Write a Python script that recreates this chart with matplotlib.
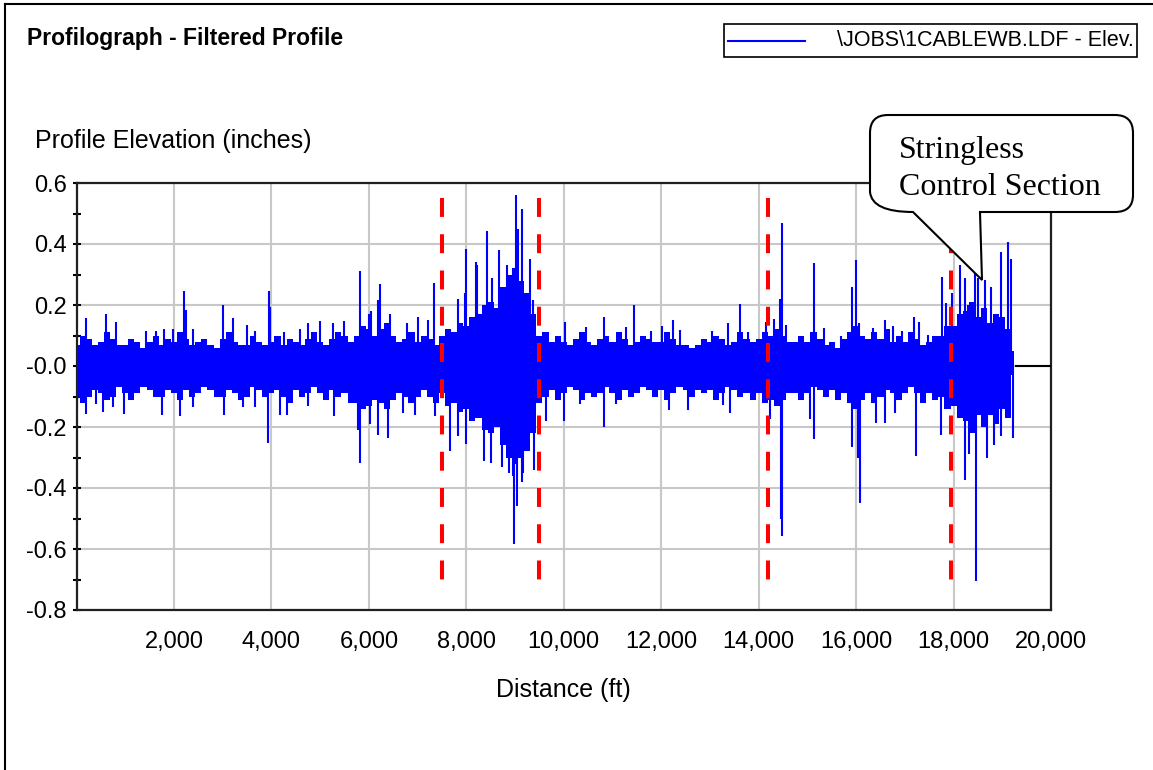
import numpy as np
import matplotlib
matplotlib.use("Agg")
import matplotlib.pyplot as plt
from matplotlib.path import Path
from matplotlib.patches import PathPatch, Rectangle
from matplotlib.lines import Line2D

plt.rcParams["font.family"] = ["Liberation Sans", "DejaVu Sans"]

# ---------- data ----------
# dense noise band, upper / lower edge every 125 ft (one row = 1000 ft)
band_ft = np.arange(0, 19251, 125)
band_hi = [0.07, 0.10, 0.09, 0.07, 0.08, 0.11, 0.09, 0.07,
           0.07, 0.09, 0.08, 0.06, 0.08, 0.10, 0.07, 0.09,
           0.08, 0.11, 0.09, 0.07, 0.08, 0.09, 0.07, 0.06,
           0.09, 0.11, 0.08, 0.07, 0.07, 0.10, 0.08, 0.07,
           0.08, 0.10, 0.07, 0.09, 0.08, 0.07, 0.09, 0.11,
           0.08, 0.07, 0.09, 0.11, 0.10, 0.08, 0.10, 0.13,
           0.12, 0.10, 0.12, 0.14, 0.10, 0.08, 0.09, 0.11,
           0.08, 0.10, 0.09, 0.07, 0.10, 0.12, 0.11, 0.14,
           0.13, 0.16, 0.17, 0.20, 0.21, 0.19, 0.26, 0.30,
           0.32, 0.28, 0.24, 0.17, 0.10, 0.11, 0.08, 0.10,
           0.08, 0.07, 0.09, 0.11, 0.08, 0.07, 0.09, 0.10,
           0.08, 0.11, 0.09, 0.07, 0.08, 0.10, 0.09, 0.08,
           0.08, 0.11, 0.09, 0.07, 0.07, 0.06, 0.07, 0.09,
           0.08, 0.10, 0.09, 0.07, 0.08, 0.11, 0.09, 0.08,
           0.09, 0.11, 0.10, 0.12, 0.10, 0.08, 0.08, 0.10,
           0.08, 0.11, 0.09, 0.07, 0.08, 0.06, 0.09, 0.11,
           0.13, 0.10, 0.09, 0.11, 0.09, 0.12, 0.08, 0.10,
           0.08, 0.11, 0.09, 0.07, 0.08, 0.10, 0.10, 0.13,
           0.13, 0.17, 0.18, 0.21, 0.16, 0.19, 0.14, 0.17,
           0.16, 0.12, 0.05]
band_lo = [-0.10, -0.12, -0.10, -0.08, -0.09, -0.11, -0.10, -0.07,
           -0.09, -0.11, -0.09, -0.07, -0.08, -0.10, -0.10, -0.08,
           -0.09, -0.11, -0.08, -0.10, -0.09, -0.07, -0.08, -0.10,
           -0.10, -0.08, -0.09, -0.11, -0.10, -0.07, -0.08, -0.10,
           -0.09, -0.08, -0.10, -0.12, -0.08, -0.10, -0.09, -0.07,
           -0.09, -0.11, -0.08, -0.10, -0.09, -0.12, -0.12, -0.14,
           -0.13, -0.11, -0.12, -0.14, -0.11, -0.09, -0.10, -0.12,
           -0.10, -0.08, -0.10, -0.12, -0.09, -0.13, -0.12, -0.15,
           -0.14, -0.18, -0.17, -0.21, -0.22, -0.20, -0.26, -0.30,
           -0.32, -0.30, -0.28, -0.22, -0.12, -0.10, -0.08, -0.11,
           -0.09, -0.07, -0.08, -0.11, -0.09, -0.10, -0.09, -0.07,
           -0.09, -0.11, -0.08, -0.10, -0.09, -0.07, -0.08, -0.10,
           -0.08, -0.11, -0.09, -0.07, -0.08, -0.10, -0.08, -0.09,
           -0.08, -0.11, -0.09, -0.07, -0.08, -0.10, -0.09, -0.11,
           -0.09, -0.12, -0.11, -0.13, -0.11, -0.09, -0.09, -0.11,
           -0.09, -0.07, -0.08, -0.10, -0.08, -0.11, -0.09, -0.12,
           -0.14, -0.11, -0.09, -0.12, -0.10, -0.08, -0.09, -0.11,
           -0.09, -0.07, -0.09, -0.12, -0.09, -0.11, -0.10, -0.14,
           -0.13, -0.17, -0.18, -0.22, -0.16, -0.20, -0.16, -0.19,
           -0.14, -0.17, -0.03]

# individual peaks sticking out of the band
peak_up_ft = [189, 605, 810, 1425, 1630, 1795, 1975, 2210, 2245, 2400,
              3000, 3215, 3490, 3660, 3950, 3970, 4255, 4585, 4755, 4995,
              5265, 5485, 5815, 6000, 6040, 6190, 6225, 6430, 6785, 7010,
              7215, 7330, 7660, 7830, 7970, 8000, 8195, 8210, 8415, 8535,
              8670, 8830, 8960, 9030, 9060, 9145, 9300, 9370, 10020, 10465,
              10820, 11285, 11440, 11800, 12025, 12240, 12390, 13050, 13370, 13620,
              13780, 14155, 14325, 14445, 14475, 14565, 15145, 15350, 15695, 15920,
              15990, 16060, 16340, 16585, 16760, 16935, 17185, 17290, 17470, 17765,
              17850, 17970, 18135, 18225, 18305, 18430, 18500, 18650, 18775, 18975,
              19120, 19180]
peak_up_in = [0.156, 0.169, 0.143, 0.116, 0.116, 0.12, 0.12, 0.246, 0.185, 0.12,
              0.2, 0.156, 0.135, 0.116, 0.246, 0.195, 0.11, 0.12, 0.14, 0.146,
              0.14, 0.148, 0.311, 0.17, 0.18, 0.215, 0.27, 0.17, 0.14, 0.16,
              0.152, 0.272, 0.12, 0.22, 0.24, 0.385, 0.34, 0.33, 0.444, 0.29,
              0.379, 0.33, 0.32, 0.562, 0.45, 0.515, 0.35, 0.215, 0.144, 0.127,
              0.16, 0.127, 0.2, 0.115, 0.13, 0.15, 0.117, 0.115, 0.142, 0.203,
              0.113, 0.145, 0.155, 0.22, 0.468, 0.135, 0.338, 0.125, 0.1, 0.26,
              0.346, 0.14, 0.125, 0.15, 0.13, 0.115, 0.16, 0.145, 0.102, 0.292,
              0.205, 0.24, 0.33, 0.29, 0.2, 0.306, 0.29, 0.283, 0.258, 0.374,
              0.408, 0.35]
peak_dn_ft = [5, 189, 395, 550, 755, 975, 1745, 2120, 2395, 3025,
              3420, 3660, 3935, 4175, 4310, 4755, 5290, 5780, 5815, 6020,
              6190, 6395, 6700, 6940, 7355, 7660, 7830, 8000, 8360, 8515,
              8740, 8870, 8960, 8980, 9050, 9145, 9165, 9385, 9630, 10005,
              10325, 10825, 11080, 12170, 12550, 13265, 13405, 14225, 14450, 14475,
              15045, 15145, 15920, 16040, 16085, 16400, 16585, 16790, 17230, 17745,
              18225, 18325, 18465, 18690, 18825, 18975, 19215]
peak_dn_in = [-0.144, -0.157, -0.125, -0.15, -0.135, -0.157, -0.16, -0.165, -0.135, -0.16,
              -0.134, -0.134, -0.253, -0.16, -0.16, -0.13, -0.165, -0.21, -0.318, -0.19,
              -0.225, -0.236, -0.155, -0.16, -0.165, -0.28, -0.23, -0.255, -0.313, -0.318,
              -0.33, -0.35, -0.36, -0.582, -0.46, -0.38, -0.35, -0.34, -0.18, -0.18,
              -0.125, -0.2, -0.124, -0.145, -0.145, -0.127, -0.155, -0.175, -0.50, -0.556,
              -0.175, -0.24, -0.264, -0.3, -0.45, -0.187, -0.187, -0.155, -0.295, -0.225,
              -0.373, -0.29, -0.705, -0.3, -0.26, -0.23, -0.235]

section_ft = [7500, 9500, 14200, 17950]   # red dashed section markers
data_end_ft = 19280

x_ticks = [2000, 4000, 6000, 8000, 10000, 12000, 14000, 16000, 18000, 20000]
x_labels = ["2,000", "4,000", "6,000", "8,000", "10,000", "12,000",
            "14,000", "16,000", "18,000", "20,000"]
y_ticks = [-0.8, -0.6, -0.4, -0.2, 0.0, 0.2, 0.4, 0.6]
y_labels = ["-0.8", "-0.6", "-0.4", "-0.2", "-0.0", "0.2", "0.4", "0.6"]

W, H = 1153, 770
BLUE = "#0000ff"


def px(x, y):
    """pixel position (from top-left) -> figure fraction"""
    return x / W, 1 - y / H


fig = plt.figure(figsize=(W / 100, H / 100), dpi=100)
fig.patch.set_facecolor("white")

# axes box: 76..1051 px wide, 183..610 px tall
ax = fig.add_axes([76.5 / W, 1 - 610 / H, (1051 - 76.5) / W, (610 - 183) / H])
ax.set_xlim(0, 20000)
ax.set_ylim(-0.8, 0.6)

# ---------- trace ----------
ax.fill_between(band_ft, band_lo, band_hi, step="mid", color=BLUE, lw=0, zorder=2)
ax.vlines(peak_up_ft, 0, peak_up_in, colors=BLUE, lw=1.5, zorder=2)
ax.vlines(peak_dn_ft, 0, peak_dn_in, colors=BLUE, lw=1.5, zorder=2)
ax.plot([data_end_ft, 20000], [0, 0], color="black", lw=1.5, zorder=3)

for xs in section_ft:
    ax.plot([xs, xs], [0.55, -0.70], color="red", lw=2.9,
            linestyle=(0, (4.7, 4.3)), zorder=4)

# ---------- axes styling ----------
ax.set_xticks(x_ticks)
ax.set_xticklabels(x_labels)
ax.set_yticks(y_ticks)
ax.set_yticklabels(y_labels)
ax.set_yticks([-0.7, -0.5, -0.3, -0.1, 0.1, 0.3, 0.5], minor=True)
ax.tick_params(axis="x", length=0, pad=15, labelsize=17)
ax.tick_params(axis="y", which="both", direction="inout", length=6, width=1.5,
               pad=4, labelsize=17)
ax.grid(True, color="#c8c8c8", lw=1.5, zorder=0)
ax.set_axisbelow(True)
for s in ax.spines.values():
    s.set_linewidth(1.6)
    s.set_color("#202020")

fig.text(*px(563, 690), "Distance (ft)", ha="center", va="center", fontsize=18)
fig.text(*px(35, 148), "Profile Elevation (inches)", ha="left", va="baseline",
         fontsize=18)
fig.text(*px(27, 45), "Profilograph - Filtered Profile", ha="left", va="baseline",
         fontsize=16.5, fontweight="bold")

# ---------- legend box ----------
x0, y0 = px(724, 57)
x1, y1 = px(1137, 24)
fig.add_artist(Rectangle((x0, y0), x1 - x0, y1 - y0, transform=fig.transFigure,
                         facecolor="white", edgecolor="black", lw=1.2))
lx0, ly = px(728, 40.5)
lx1, _ = px(805, 40.5)
fig.add_artist(Line2D([lx0, lx1], [ly, ly], transform=fig.transFigure,
                      color=BLUE, lw=1.5))
fig.text(*px(1134, 41), "\\JOBS\\1CABLEWB.LDF - Elev.", ha="right",
         va="center", fontsize=15.5)

# ---------- callout ----------
pts = [(888, 115), (1115, 115), (1133, 115), (1133, 133), (1133, 195),
       (1133, 212), (1115, 212), (980, 212), (982, 280), (913, 212),
       (872, 212), (870, 192), (870, 133), (870, 115), (888, 115)]
codes = [Path.MOVETO, Path.LINETO, Path.CURVE3, Path.CURVE3, Path.LINETO,
         Path.CURVE3, Path.CURVE3, Path.LINETO, Path.LINETO, Path.LINETO,
         Path.CURVE3, Path.CURVE3, Path.LINETO, Path.CURVE3, Path.CURVE3]
callout = Path([px(x, y) for x, y in pts], codes)
fig.add_artist(PathPatch(callout, transform=fig.transFigure, facecolor="white",
                         edgecolor="black", lw=1.5, zorder=5))
fig.text(*px(899, 158), "Stringless", ha="left", va="baseline", fontsize=23,
         family="Liberation Serif", zorder=6)
fig.text(*px(899, 195), "Control Section", ha="left", va="baseline", fontsize=23,
         family="Liberation Serif", zorder=6)

# ---------- outer frame ----------
fig.add_artist(Line2D([5 / W, 5 / W], [0, 1 - 4 / H], transform=fig.transFigure,
                      color="black", lw=1.5))
fig.add_artist(Line2D([5 / W, 1], [1 - 4 / H, 1 - 4 / H], transform=fig.transFigure,
                      color="black", lw=1.5))

fig.savefig("out.png", dpi=100)
plt.close(fig)
